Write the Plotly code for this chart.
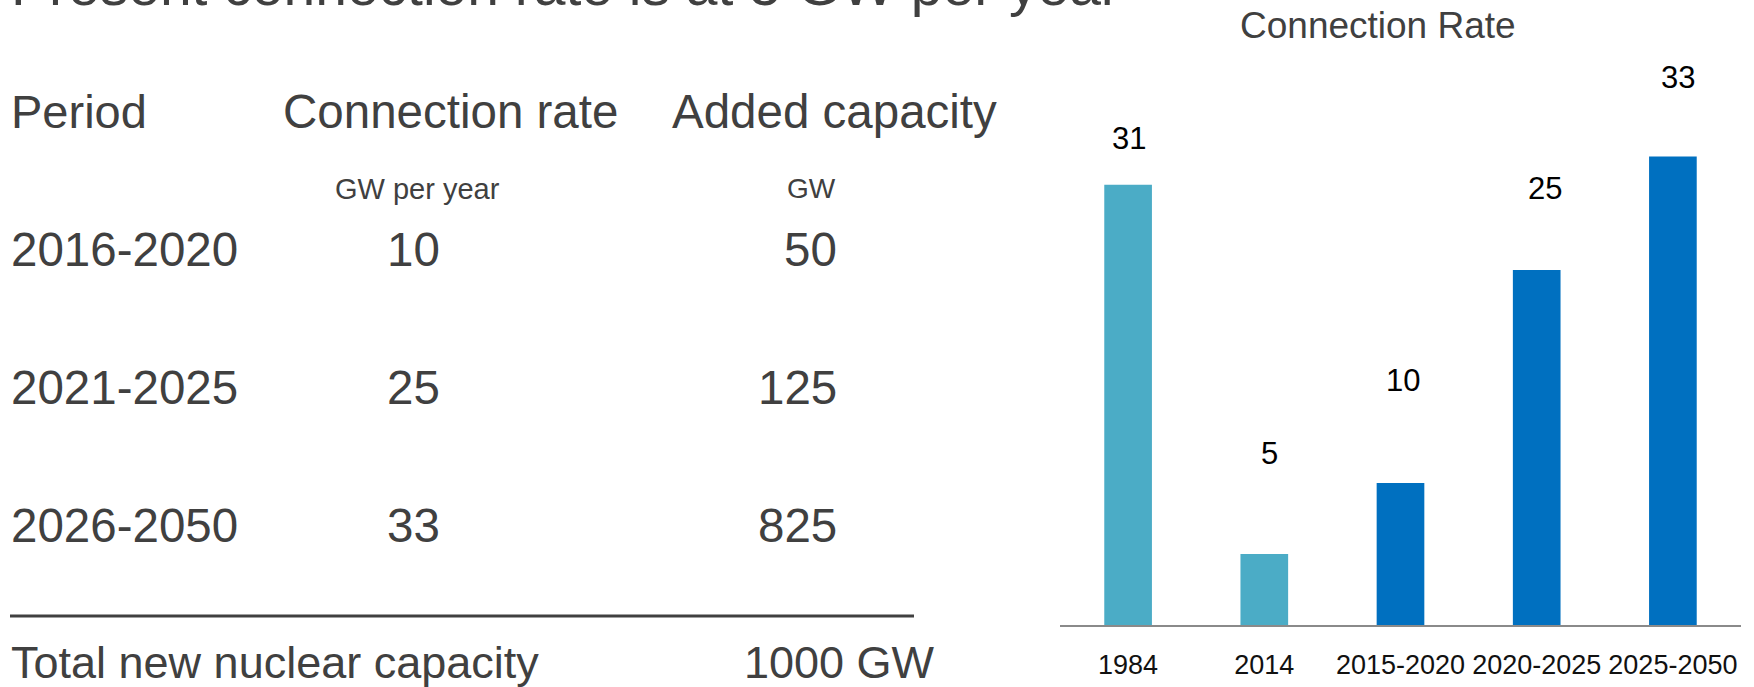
import plotly.graph_objects as go

# Table: planned new nuclear build-out
periods = ["2016-2020", "2021-2025", "2026-2050"]
rates_gw_per_year = [10, 25, 33]
added_gw = [50, 125, 825]

# Bar chart: historical and required connection rates (GW per year)
categories = ["1984", "2014", "2015-2020", "2020-2025", "2025-2050"]
values = [31, 5, 10, 25, 33]
is_projection = [False, False, True, True, True]

W, H = 1754, 687
GRAY = "#404040"
FONT = "Liberation Sans, Arial, sans-serif"


def px(x):
    return x / W


def py(y):
    return 1 - y / H


fig = go.Figure()

fig.add_trace(go.Bar(
    x=categories,
    y=values,
    marker=dict(
        color=["#0070C0" if p else "#4BACC6" for p in is_projection],
        line=dict(width=0),
    ),
    hoverinfo="x+y",
))

annotations = []


def text(x, y, s, size, xanchor="left", color=GRAY, family=FONT):
    annotations.append(dict(
        x=px(x), y=py(y), xref="paper", yref="paper", text=s, showarrow=False,
        xanchor=xanchor, yanchor="middle",
        font=dict(size=size, color=color, family=family),
    ))


# slide heading, partly running off the top edge
text(9, -15, "Present connection rate is at 5 GW per year", 57)

# table header
text(9, 112, "Period", 47)
text(281, 112, "Connection rate", 47.5)
text(670, 112, "Added capacity", 47.5)
text(417, 189, "GW per year", 29, xanchor="center")
text(811, 189, "GW", 28, xanchor="center")

# table rows
row_y = [249, 387, 525]
for yy, per, rate, add in zip(row_y, periods, rates_gw_per_year, added_gw):
    text(9, yy, per, 47.5)
    text(413, yy, str(rate), 47.5, xanchor="center")
    text(839, yy, str(add), 47.5, xanchor="right")

# total
text(9, 662, "Total new nuclear capacity", 45)
text(937, 662, f"{sum(added_gw)} GW", 45, xanchor="right")

# chart title
text(1378, 25, "Connection Rate", 37, xanchor="center")

# value labels above the bars (category index positions on the x axis)
label_yshift = [46, 101, 103, 82, 79]
label_xshift = [1, 5, 2, 8, 5]
for i, (v, dy, dx) in enumerate(zip(values, label_yshift, label_xshift)):
    annotations.append(dict(
        x=i, y=v, xref="x", yref="y", text=str(v), showarrow=False,
        xanchor="center", yanchor="middle", yshift=dy, xshift=dx,
        font=dict(size=31, color="#000000", family=FONT),
    ))

fig.update_layout(
    width=W, height=H, autosize=False,
    margin=dict(l=0, r=0, t=0, b=0, pad=0, autoexpand=False),
    paper_bgcolor="white", plot_bgcolor="white",
    showlegend=False,
    bargap=0.65,
    annotations=annotations,
    shapes=[dict(
        type="line", xref="paper", yref="paper",
        x0=px(10), x1=px(914), y0=py(616), y1=py(616),
        line=dict(color=GRAY, width=3),
    )],
    xaxis=dict(
        domain=[px(1060), px(1741)],
        type="category",
        range=[-0.5, len(categories) - 0.5],
        automargin=False,
        showline=True, linecolor="#8a8a8a", linewidth=1.5,
        showgrid=False, zeroline=False, ticks="",
        tickangle=0,
        tickfont=dict(size=27, color="#111111", family=FONT),
        ticklabelstandoff=15,
    ),
    yaxis=dict(
        domain=[py(625), py(57)],
        range=[0, 40],
        visible=False,
        automargin=False,
        showgrid=False, zeroline=False,
    ),
)

fig.write_html("out.html")
